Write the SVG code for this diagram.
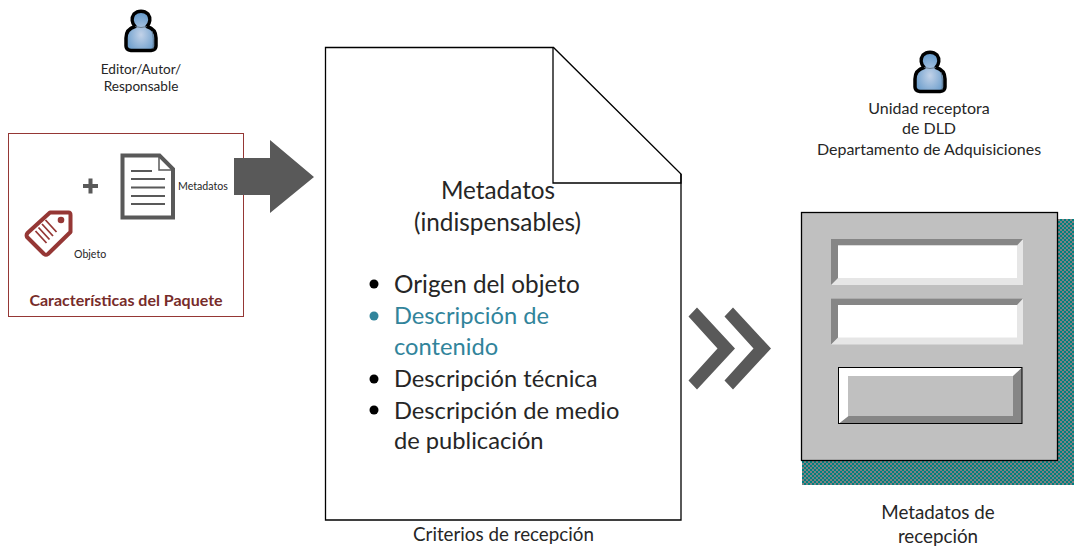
<svg xmlns="http://www.w3.org/2000/svg" width="1074" height="546" viewBox="0 0 1074 546">
<style>
text{font-family:"Lato","Open Sans","Liberation Sans",sans-serif;fill:#262626}
.s11{font-size:13.6px}.s9{font-size:10.600px}.s16{font-size:16px}.s18{font-size:18.800px}.s23{font-size:23.700px}
.m{text-anchor:middle}
.ln{stroke:#000;stroke-width:1.300;fill:none}
</style>
<defs>
<pattern id="chk" width="4" height="4" patternUnits="userSpaceOnUse" x="802" y="219">
<rect width="4" height="4" fill="#008080"/><rect width="2" height="2" fill="#808080"/><rect x="2" y="2" width="2" height="2" fill="#808080"/>
</pattern>
<radialGradient id="pb" cx="50%" cy="60%" r="60%"><stop offset="0" stop-color="#c2d2e8"/><stop offset="1" stop-color="#5f96c8"/></radialGradient>
<g id="person">
<path d="M-7-17A10 10 0 0 1 7-17C10-13 9-8 6-4.500C11-3 15 1 15 7V15C15 18 13 19 10 19.500H-10C-13 19-15 18-15 15V7C-15 1-11-3-6-4.500C-9-8-10-13-7-17Z" fill="url(#pb)" stroke="#000" stroke-width="3.500" stroke-linejoin="round"/>
<path d="M-6-4.500Q0-2.500 6-4.500M11 0Q13 6 12 18" fill="none" stroke="#5a6b7a" stroke-width=".8"/>
</g>
</defs>
<g id="editor">
<use href="#person" x="141" y="31"/>
<text class="s11 m" x="141" y="74">Editor/Autor/</text>
<text class="s11 m" x="141" y="91">Responsable</text>
</g>
<g id="paquete">
<rect x="8.500" y="133.500" width="235" height="183" fill="none" stroke="#953735" stroke-width="1"/>
<path d="M83 186H98M90.500 178.500V193.500" stroke="#595959" stroke-width="4" fill="none"/>
<g id="metadatos-icon">
<path d="M122.500 155.500H159.500L173 169V217.500H122.500Z" fill="#fff" stroke="#595959" stroke-width="4"/>
<path d="M159 156V170H173" fill="none" stroke="#595959" stroke-width="1.500"/>
<path d="M131 171H152M131 179H165M131 187.500H165M131 196H165M131 204H165" stroke="#595959" stroke-width="2" fill="none"/>
</g>
<text class="s9" x="178" y="189.500">Metadatos</text>
<g id="objeto-icon">
<path d="M27.500 233L50 212.500H68.500Q70.500 212.500 70.500 215V232L48 254Q46 255.500 44 254L27 237Q26 235 27.500 233Z" fill="#fff" stroke="#953735" stroke-width="4" stroke-linejoin="round"/>
<circle cx="61" cy="220" r="3.300" fill="#953735"/>
<path d="M46 222L57 234M42.500 226L53.500 238M39 229.500L50 241.500M36 233L47 245" stroke="#953735" stroke-width="1.800" fill="none" transform="translate(-.5 -2)"/>
</g>
<text class="s9" x="74" y="257.500">Objeto</text>
<text x="126" y="306" class="m" style="font-size:16px;font-weight:700;fill:#772c2a">Características del Paquete</text>
</g>
<g id="criterios">
<path class="ln" d="M325.500 47.500H553.500L681 174V520H325.500Z" fill="#fff"/>
<path class="ln" d="M553 47.500V183H681V174"/>
<text class="s23 m" x="498" y="199" style="font-size:24.300px">Metadatos</text>
<text class="s23 m" x="497.500" y="231" style="font-size:24.300px">(indispensables)</text>
<circle cx="374" cy="284" r="4.500" fill="#000"/>
<text class="s23" x="394" y="293" style="font-size:24.300px">Origen del objeto</text>
<circle cx="374" cy="316" r="4.500" fill="#31849b"/>
<text class="s23" x="394" y="324" style="fill:#31849b">Descripción de</text>
<text class="s23" x="394" y="355" style="fill:#31849b">contenido</text>
<circle cx="374" cy="379" r="4.500" fill="#000"/>
<text class="s23" x="394" y="387">Descripción técnica</text>
<circle cx="374" cy="410" r="4.500" fill="#000"/>
<text class="s23" x="394" y="419">Descripción de medio</text>
<text class="s23" x="394" y="449">de publicación</text>
<text class="s18 m" x="503.500" y="541">Criterios de recepción</text>
</g>
<g id="unidad">
<use href="#person" x="930" y="72"/>
<text class="s16 m" x="929" y="114">Unidad receptora</text>
<text class="s16 m" x="929" y="134">de DLD</text>
<text class="s16 m" x="929" y="155">Departamento de Adquisiciones</text>
</g>
<g id="formulario">
<rect x="802" y="219" width="272" height="266" fill="url(#chk)"/>
<rect x="801.500" y="212.500" width="256" height="248" fill="#c0c0c0" stroke="#000" stroke-width="1.300"/>
<g id="campo-1"><rect x="831" y="239" width="192" height="46" fill="#e6e6e6"/><path d="M831 239H1023L1017 245.500H838V278L831 285Z" fill="#868686"/><rect x="838" y="245.500" width="179" height="32.500" fill="#fff"/></g>
<g id="campo-2"><rect x="831" y="298.500" width="192" height="46" fill="#e6e6e6"/><path d="M831 298.500H1023L1017 305H838V337.500L831 344.500Z" fill="#868686"/><rect x="838" y="305" width="179" height="32.500" fill="#fff"/></g>
<g id="boton"><rect x="838.500" y="367.500" width="183.500" height="56" fill="#fff"/><path d="M1022 367.500L1013 376V416H848.500L839 423.500H1022Z" fill="#868686"/><rect x="848" y="376" width="165" height="40" fill="#c0c0c0"/><rect x="838.500" y="367.500" width="183.500" height="56" fill="none" stroke="#000" stroke-width="1"/></g>
<text class="s18 m" x="938" y="519">Metadatos de</text>
<text class="s18 m" x="938" y="543">recepción</text>
</g>
<g id="connectors">
<path id="arrow-right" d="M234 158H270V140L314 177L270 213V195H234Z" fill="#595959"/>
<path id="chevron-1" d="M697 308L735 349L697 390L688.500 381L717.500 349L688.500 317Z" fill="#595959" transform="translate(0 -.5)"/>
<path id="chevron-2" d="M733 308L771 349L733 390L724.500 381L753.500 349L724.500 317Z" fill="#595959" transform="translate(0 -.5)"/>
</g>
</svg>
